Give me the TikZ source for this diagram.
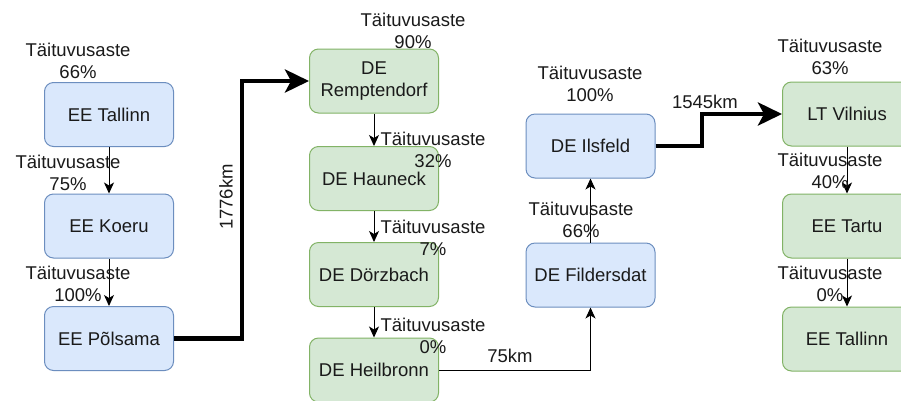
\documentclass[tikz,border=0pt]{standalone}
\usepackage{fontspec}
\setmainfont{Liberation Sans}
\usetikzlibrary{arrows.meta}
\definecolor{bluefill}{HTML}{DAE8FC}
\definecolor{blueline}{HTML}{6C8EBF}
\definecolor{greenfill}{HTML}{D5E8D4}
\definecolor{greenline}{HTML}{82B366}
\definecolor{txt}{HTML}{1A1A1A}
\tikzset{
  box/.style={rounded corners=9pt, minimum width=129pt, minimum height=64pt, inner sep=0pt, align=center, text=txt, line width=1pt},
  bluebox/.style={box, draw=blueline, fill=bluefill},
  greenbox/.style={box, draw=greenline, fill=greenfill},
  lbl/.style={inner sep=0pt, align=center, text=txt},
  thinarrow/.style={draw=black, line width=1pt, -{Stealth[length=11pt, width=10pt, inset=3pt]}},
  thickarrow/.style={draw=black, line width=4.5pt, -{Stealth[length=24pt, width=23pt, inset=6pt]}},
  plainline/.style={draw=black, line width=1pt}
}
\begin{document}
\begin{tikzpicture}[x=1pt, y=-1pt, font=\fontsize{18.5}{22}\selectfont]
\useasboundingbox (0,0) rectangle (901,400);
\clip (0,0) rectangle (901,400);
\fill[white] (0,0) rectangle (901,400);
% left column
\node[bluebox] (tal1) at (109,114.5) {EE Tallinn};
\node[bluebox] (koe) at (109,226) {EE Koeru};
\node[bluebox] (pol) at (109,338.5) {EE Põlsama};
% green column
\node[greenbox] (rem) at (374,81) {DE\\Remptendorf};
\node[greenbox] (hau) at (374,178.5) {DE Hauneck};
\node[greenbox] (dor) at (374,274.5) {DE Dörzbach};
\node[greenbox] (heil) at (374,370) {DE Heilbronn};
% blue middle
\node[bluebox] (ils) at (590.5,146) {DE Ilsfeld};
\node[bluebox] (fil) at (590.5,275) {DE Fildersdat};
% right column
\node[greenbox] (vil) at (847,114) {LT Vilnius};
\node[greenbox] (tar) at (847,226) {EE Tartu};
\node[greenbox] (tal2) at (847,339) {EE Tallinn};
% connectors
\draw[thinarrow] (tal1.south) -- (koe.north);
\draw[thinarrow] (koe.south) -- (pol.north);
\coordinate (k1) at (242,81);
\draw[thickarrow] (pol.east) -| (k1) -- (rem.west);
\draw[thinarrow] (rem.south) -- (hau.north);
\draw[thinarrow] (hau.south) -- (dor.north);
\draw[thinarrow] (dor.south) -- (heil.north);
\draw[thinarrow] (heil.east) -| (fil.south);
\draw[thinarrow] (fil.north) -- (ils.south);
\coordinate (k2) at (702,114);
\draw[thickarrow] (ils.east) -| (k2) -- (vil.west);
\draw[thinarrow] (vil.south) -- (tar.north);
\draw[thinarrow] (tar.south) -- (tal2.north);
% labels
\node[lbl] (l1) at (78,61) {Täituvusaste\\66\%};
\node[lbl] (l2) at (68,173) {Täituvusaste\\75\%};
\node[lbl] (l3) at (78,284) {Täituvusaste\\100\%};
\node[lbl] (l4) at (413,31) {Täituvusaste\\90\%};
\node[lbl] (l5) at (433,150) {Täituvusaste\\32\%};
\node[lbl] (l6) at (433,238) {Täituvusaste\\7\%};
\node[lbl] (l7) at (433,336) {Täituvusaste\\0\%};
\node[lbl] (l8) at (590,84) {Täituvusaste\\100\%};
\node[lbl] (l9) at (581,220) {Täituvusaste\\66\%};
\node[lbl] (l10) at (510,356) {75km};
\node[lbl, rotate=90] (l11) at (226,197) {1776km};
\node[lbl] (l12) at (705,102) {1545km};
\node[lbl] (l13) at (830,57) {Täituvusaste\\63\%};
\node[lbl] (l14) at (830,171) {Täituvusaste\\40\%};
\node[lbl] (l15) at (830,284) {Täituvusaste\\0\%};
\end{tikzpicture}
\end{document}
